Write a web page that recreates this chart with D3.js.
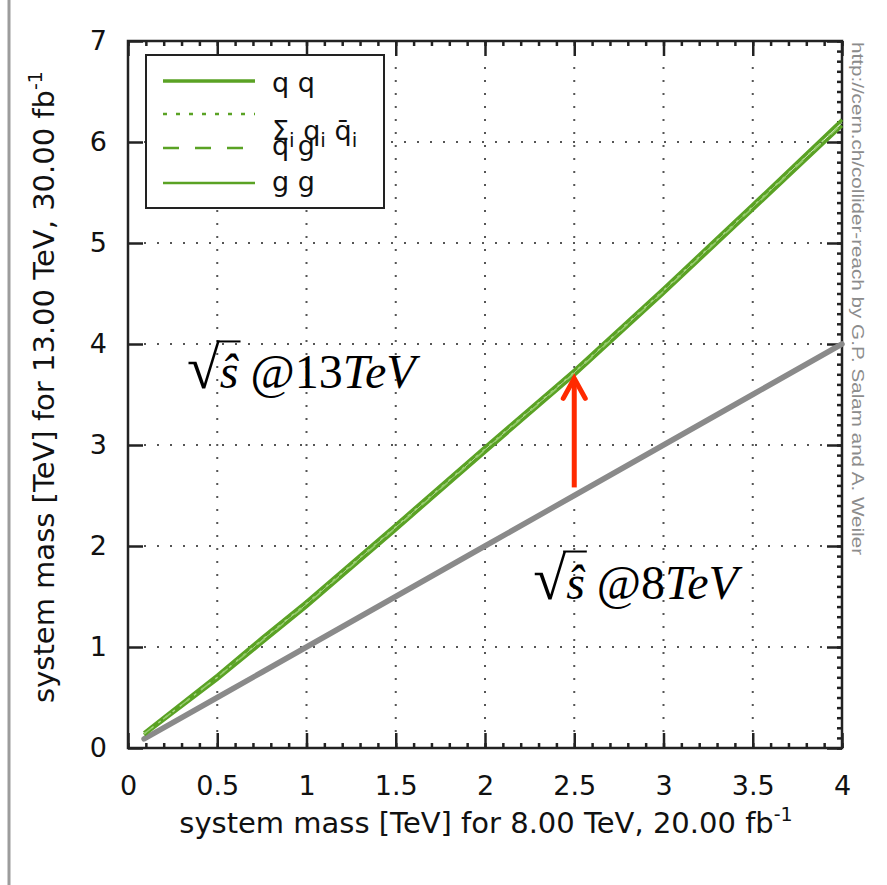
<!DOCTYPE html>
<html>
<head>
<meta charset="utf-8">
<script src="https://cdn.jsdelivr.net/npm/d3@7"></script>
<style>
  body { margin: 0; background: #fff; }
  svg { display: block; }
  .tick text { font-family: "DejaVu Sans", sans-serif; font-size: 27px; fill: #111; }
  .lbl { font-family: "DejaVu Sans", sans-serif; font-size: 27px; fill: #111; }
</style>
</head>
<body>
<div id="chart"></div>
<script>
// values (TeV)
var mass8 = [0.09, 0.5, 0.75, 1, 1.5, 2, 2.5, 3, 3.5, 4];
var qqReach    = [0.15, 0.72, 1.09, 1.45, 2.21, 2.98, 3.74, 4.55, 5.38, 6.22];
var qqbarReach = [0.14, 0.70, 1.07, 1.43, 2.19, 2.96, 3.72, 4.53, 5.36, 6.19];
var qgReach    = [0.14, 0.70, 1.06, 1.42, 2.18, 2.95, 3.71, 4.52, 5.35, 6.18];
var ggReach    = [0.13, 0.68, 1.04, 1.40, 2.16, 2.93, 3.69, 4.50, 5.33, 6.16];
var sameReach  = [0.09, 0.5, 0.75, 1, 1.5, 2, 2.5, 3, 3.5, 4];

var xTicks = [0, 0.5, 1, 1.5, 2, 2.5, 3, 3.5, 4];
var yTicks = [0, 1, 2, 3, 4, 5, 6, 7];

var W = 887, H = 885;
var margin = {top: 41, right: 45, bottom: 137, left: 128},
    width = W - margin.left - margin.right,
    height = H - margin.top - margin.bottom;

var green = "#5aa224";

var root = d3.select("#chart").append("svg")
    .attr("width", W)
    .attr("height", H);

// gray bar on the far left
root.append("line")
    .attr("x1", 9).attr("x2", 9)
    .attr("y1", 0).attr("y2", H)
    .attr("stroke", "#9c9c9c")
    .attr("stroke-width", 3);

var svg = root.append("g")
    .attr("transform", "translate(" + margin.left + "," + margin.top + ")");

var x = d3.scaleLinear().domain([0, 4]).range([0, width]);
var y = d3.scaleLinear().domain([0, 7]).range([height, 0]);

// dotted grid
svg.append("g")
    .selectAll("line")
    .data(xTicks.slice(1, -1))
    .enter().append("line")
        .attr("x1", function(d) { return x(d); })
        .attr("x2", function(d) { return x(d); })
        .attr("y1", height - 16)
        .attr("y2", 16)
        .attr("stroke", "#555")
        .attr("stroke-width", 2)
        .attr("stroke-dasharray", "2,11");
svg.append("g")
    .selectAll("line")
    .data(yTicks.slice(1, -1))
    .enter().append("line")
        .attr("x1", 16)
        .attr("x2", width - 16)
        .attr("y1", function(d) { return y(d); })
        .attr("y2", function(d) { return y(d); })
        .attr("stroke", "#555")
        .attr("stroke-width", 2)
        .attr("stroke-dasharray", "2,11");

// axes: major ticks inward, minor ticks top/bottom/right
function styleAxis(g) {
    g.select(".domain").remove();
    g.selectAll(".tick line").attr("stroke", "#222").attr("stroke-width", 2.5);
}
var minorX = d3.range(0, 41).map(function(i) { return i / 10; });
var minorY = d3.range(0, 71).map(function(i) { return i / 10; });
var plain = function(d) { return String(d); };

svg.append("g")
    .attr("transform", "translate(0," + height + ")")
    .call(d3.axisBottom(x).tickValues(xTicks).tickSize(-15).tickPadding(28).tickFormat(plain))
    .call(styleAxis);
svg.append("g")
    .attr("transform", "translate(0," + height + ")")
    .call(d3.axisBottom(x).tickValues(minorX).tickSize(-5).tickFormat(""))
    .call(styleAxis);
svg.append("g")
    .call(d3.axisTop(x).tickValues(xTicks).tickSize(-15).tickFormat(""))
    .call(styleAxis);
svg.append("g")
    .call(d3.axisTop(x).tickValues(minorX).tickSize(-5).tickFormat(""))
    .call(styleAxis);
svg.append("g")
    .call(d3.axisLeft(y).tickValues(yTicks).tickSize(-15).tickPadding(21).tickFormat(plain))
    .call(styleAxis);
svg.append("g")
    .attr("transform", "translate(" + width + ",0)")
    .call(d3.axisRight(y).tickValues(yTicks).tickSize(-15).tickFormat(""))
    .call(styleAxis);
svg.append("g")
    .attr("transform", "translate(" + width + ",0)")
    .call(d3.axisRight(y).tickValues(minorY).tickSize(-5).tickFormat(""))
    .call(styleAxis);

svg.append("rect")
    .attr("width", width).attr("height", height)
    .attr("fill", "none").attr("stroke", "#222").attr("stroke-width", 2.5);

// curves
var line = d3.line()
    .x(function(d) { return x(d[0]); })
    .y(function(d) { return y(d[1]); });
function pairs(ys) { return mass8.map(function(m, i) { return [m, ys[i]]; }); }

svg.append("path").datum(pairs(sameReach))
    .attr("d", line).attr("fill", "none")
    .attr("stroke", "#8a8a8a").attr("stroke-width", 5.5).attr("stroke-linecap", "round");

svg.append("path").datum(pairs(qqReach))
    .attr("d", line).attr("fill", "none").attr("stroke", green).attr("stroke-width", 3.5);
svg.append("path").datum(pairs(ggReach))
    .attr("d", line).attr("fill", "none").attr("stroke", green).attr("stroke-width", 3.5);
svg.append("path").datum(pairs(qqbarReach))
    .attr("d", line).attr("fill", "none").attr("stroke", "#a6d681").attr("stroke-width", 1.5)
    .attr("stroke-dasharray", "3,6");
svg.append("path").datum(pairs(qgReach))
    .attr("d", line).attr("fill", "none").attr("stroke", "#94cb6c").attr("stroke-width", 1.5)
    .attr("stroke-dasharray", "10,14");

// legend
var legend = svg.append("g").attr("transform", "translate(18,14)");
legend.append("rect")
    .attr("width", 238).attr("height", 153)
    .attr("fill", "#fff").attr("stroke", "#222").attr("stroke-width", 2);
var legendRows = [
    {y: 26, dash: null, w: 3.5},
    {y: 59, dash: "4,9", w: 2.5},
    {y: 93, dash: "16,16", w: 2.5},
    {y: 128, dash: null, w: 2.5}
];
legend.selectAll("line.key")
    .data(legendRows)
    .enter().append("line")
        .attr("class", "key")
        .attr("x1", 17).attr("x2", 109)
        .attr("y1", function(d) { return d.y; })
        .attr("y2", function(d) { return d.y; })
        .attr("stroke", green)
        .attr("stroke-width", function(d) { return d.w; })
        .attr("stroke-dasharray", function(d) { return d.dash; });
legend.append("text").attr("class", "lbl").attr("x", 126).attr("y", 37).text("q q");
var sq = legend.append("text").attr("class", "lbl").attr("x", 126).attr("y", 85);
sq.append("tspan").text("Σ");
sq.append("tspan").attr("font-size", 20).attr("dy", 7).text("i");
sq.append("tspan").attr("dy", -7).text(" q");
sq.append("tspan").attr("font-size", 20).attr("dy", 7).text("i");
sq.append("tspan").attr("dy", -7).text(" q\u0304");
sq.append("tspan").attr("font-size", 20).attr("dy", 7).text("i");
legend.append("text").attr("class", "lbl").attr("x", 126).attr("y", 100).text("q g");
legend.append("text").attr("class", "lbl").attr("x", 126).attr("y", 136).text("g g");

// sqrt(s-hat) annotations
var measure = document.createElement("canvas").getContext("2d");
measure.font = "60px 'Liberation Serif'";
var radicalTop = measure.measureText("√").actualBoundingBoxAscent || 48;

function sqrtLabel(px, py, energy) {
    var t = svg.append("text")
        .attr("x", x(px)).attr("y", y(py))
        .attr("font-family", "'Liberation Serif', 'Times New Roman', serif")
        .attr("font-size", 48)
        .attr("fill", "#000");
    t.append("tspan").attr("font-size", 60).text("√");
    t.append("tspan").attr("font-style", "italic").text("ŝ");
    t.append("tspan").text(" @" + energy);
    t.append("tspan").attr("font-style", "italic").text("TeV");
    // vinculum over s-hat
    var n = t.node();
    var x0 = n.getEndPositionOfChar(0).x;
    var x1 = n.getEndPositionOfChar(1).x;
    var yTop = y(py) - radicalTop + 1;
    svg.append("line")
        .attr("x1", x0 - 3).attr("x2", x1 + 2)
        .attr("y1", yTop).attr("y2", yTop)
        .attr("stroke", "#000").attr("stroke-width", 2);
}
sqrtLabel(0.33, 3.56, "13");
sqrtLabel(2.27, 1.48, "8");

// red arrow
var arrowX = 2.5, arrowFrom = 2.58, arrowTo = 3.66;
svg.append("line")
    .attr("x1", x(arrowX)).attr("x2", x(arrowX))
    .attr("y1", y(arrowFrom)).attr("y2", y(arrowTo) + 2)
    .attr("stroke", "#ff2a00").attr("stroke-width", 5);
svg.append("path")
    .attr("d", "M" + (x(arrowX) - 11) + "," + (y(arrowTo) + 20) +
               "L" + x(arrowX) + "," + y(arrowTo) +
               "L" + (x(arrowX) + 11) + "," + (y(arrowTo) + 20))
    .attr("fill", "none").attr("stroke", "#ff2a00").attr("stroke-width", 5)
    .attr("stroke-linejoin", "miter").attr("stroke-linecap", "round");

// axis titles
var xt = root.append("text").attr("class", "lbl")
    .attr("x", margin.left + width / 2 + 1).attr("y", 833)
    .attr("text-anchor", "middle")
    .style("font-size", "29px");
xt.append("tspan").text("system mass [TeV] for 8.00 TeV, 20.00 fb");
xt.append("tspan").attr("font-size", 19).attr("dy", -12).text("-1");

var yt = root.append("text").attr("class", "lbl")
    .attr("transform", "translate(54,387) rotate(-90)")
    .attr("text-anchor", "middle")
    .style("font-size", "29px");
yt.append("tspan").text("system mass [TeV] for 13.00 TeV, 30.00 fb");
yt.append("tspan").attr("font-size", 19).attr("dy", -12).text("-1");

// credit
root.append("text")
    .attr("transform", "translate(852,42) rotate(90)")
    .attr("font-family", "'Liberation Sans', Arial, sans-serif")
    .attr("font-size", 17)
    .attr("textLength", 513)
    .attr("lengthAdjust", "spacingAndGlyphs")
    .attr("fill", "#8c8c8c")
    .text("http://cern.ch/collider-reach by G.P. Salam and A. Weiler");
</script>
</body>
</html>
